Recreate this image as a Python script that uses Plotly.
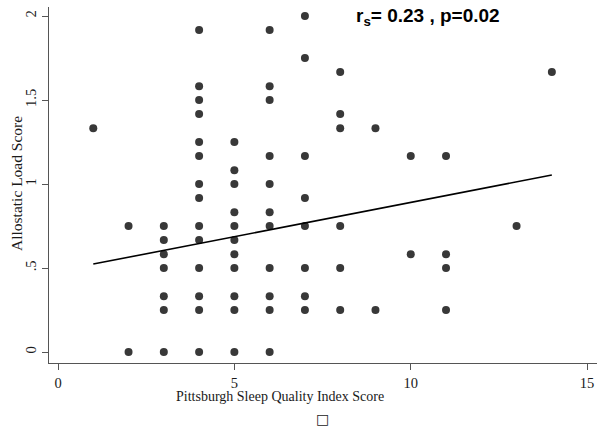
import plotly.graph_objects as go

# PSQI score (x) and allostatic load score (y)
psqi = [1,
        2, 2,
        3, 3, 3, 3, 3, 3, 3,
        4, 4, 4, 4, 4, 4, 4, 4, 4, 4, 4, 4, 4, 4,
        5, 5, 5, 5, 5, 5, 5, 5, 5, 5, 5,
        6, 6, 6, 6, 6, 6, 6, 6, 6, 6, 6,
        7, 7, 7, 7, 7, 7, 7, 7,
        8, 8, 8, 8, 8, 8,
        9, 9,
        10, 10,
        11, 11, 11, 11,
        13,
        14]
allostatic = [1.333,
              0.75, 0.0,
              0.75, 0.667, 0.583, 0.5, 0.333, 0.25, 0.0,
              1.917, 1.583, 1.5, 1.417, 1.25, 1.167, 1.0, 0.917, 0.75, 0.667, 0.5, 0.333, 0.25, 0.0,
              1.25, 1.083, 1.0, 0.833, 0.75, 0.667, 0.583, 0.5, 0.333, 0.25, 0.0,
              1.917, 1.583, 1.5, 1.167, 1.0, 0.833, 0.75, 0.5, 0.333, 0.25, 0.0,
              2.0, 1.75, 1.167, 0.917, 0.75, 0.5, 0.333, 0.25,
              1.667, 1.417, 1.333, 0.75, 0.5, 0.25,
              1.333, 0.25,
              1.167, 0.583,
              1.167, 0.583, 0.5, 0.25,
              0.75,
              1.667]

# fitted line
fit_x = [1, 14]
fit_intercept = 0.483
fit_slope = 0.0408
fit_y = [fit_intercept + fit_slope * v for v in fit_x]

x_ticks = [0, 5, 10, 15]
y_ticks = [0, 0.5, 1, 1.5, 2]
y_tick_labels = ["0", ".5", "1", "1.5", "2"]

x_title = "Pittsburgh Sleep Quality Index Score"
y_title = "Allostatic Load Score"
stat_text = "<b>r<sub>s</sub>= 0.23 , p=0.02</b>"

fig = go.Figure()
fig.add_trace(go.Scatter(x=psqi, y=allostatic, mode="markers",
                         marker=dict(size=8, color="#383838"),
                         showlegend=False, hoverinfo="skip"))
fig.add_trace(go.Scatter(x=fit_x, y=fit_y, mode="lines",
                         line=dict(color="black", width=1.6),
                         showlegend=False, hoverinfo="skip"))

serif = "Liberation Serif, Times New Roman, serif"
axis_common = dict(showline=True, linecolor="#555555", linewidth=1.2,
                   ticks="outside", ticklen=6, tickcolor="#555555",
                   showgrid=False, zeroline=False, automargin=False,
                   tickfont=dict(family=serif, size=14.5, color="#1a1a1a"))

L, R, T, B = 49, 7, 7, 69
W, H = 604, 432
pw, ph = W - L - R, H - T - B

def px(xp):
    return (xp - L) / pw

def py(yp):
    return (H - B - yp) / ph

fig.update_layout(
    width=W, height=H,
    margin=dict(l=L, r=R, t=T, b=B),
    paper_bgcolor="white", plot_bgcolor="white",
    xaxis=dict(range=[-0.255, 15.28], tickvals=x_ticks, **axis_common),
    yaxis=dict(range=[-0.065, 2.054], tickvals=y_ticks, ticktext=y_tick_labels,
               tickangle=-90, **axis_common),
)

fig.add_annotation(text=x_title, xref="paper", yref="paper",
                   x=px(280), y=py(397), xanchor="center", yanchor="middle",
                   showarrow=False,
                   font=dict(family=serif, size=14, color="#1a1a1a"))
fig.add_annotation(text=y_title, xref="paper", yref="paper",
                   x=px(16), y=py(184), xanchor="center", yanchor="middle",
                   textangle=-90, showarrow=False,
                   font=dict(family=serif, size=15.5, color="#1a1a1a"))
fig.add_annotation(text=stat_text,
                   xref="paper", yref="paper", x=px(428), y=py(3),
                   xanchor="center", yanchor="top", showarrow=False,
                   font=dict(family="Liberation Sans, Arial, sans-serif", size=19, color="black"))
fig.add_annotation(text="\u25a1", xref="paper", yref="paper",
                   x=px(322), y=py(419),
                   xanchor="center", yanchor="middle", showarrow=False,
                   font=dict(family="DejaVu Sans", size=14, color="#222222"))

fig.write_html("out.html", config={"displayModeBar": False},
               post_script="document.body.style.margin='0';document.body.style.overflow='hidden';")
